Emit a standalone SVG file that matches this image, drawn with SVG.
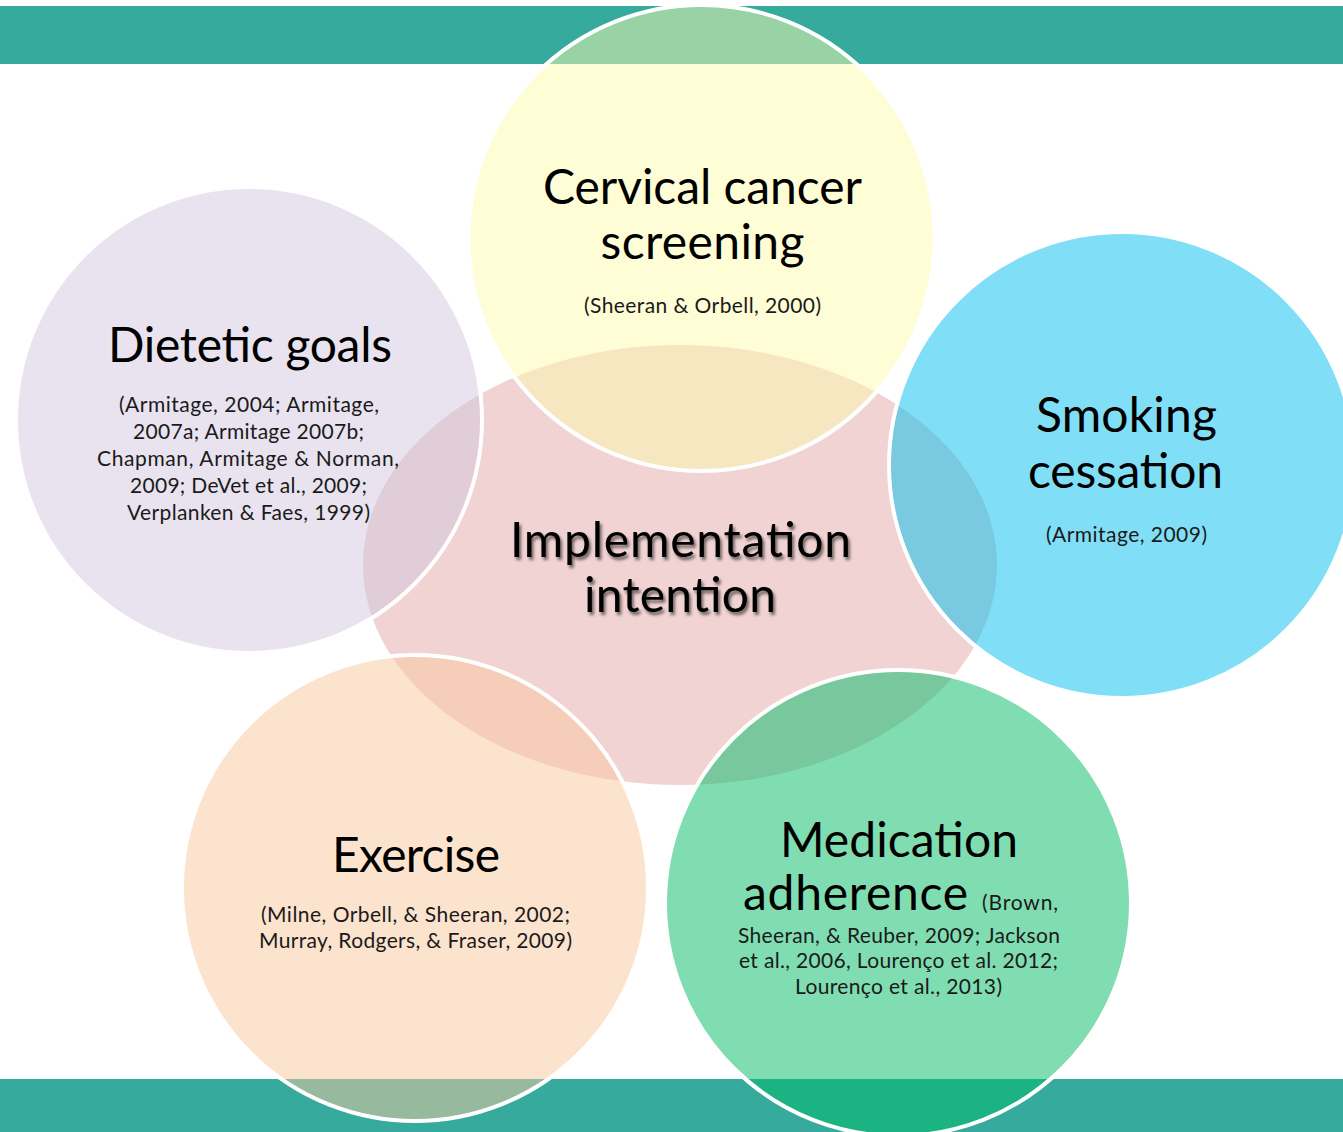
<svg xmlns="http://www.w3.org/2000/svg" width="1343" height="1132" viewBox="0 0 1343 1132">
<style>
.bar{fill:#35AA9D}
.sat{stroke:#FFFFFF;stroke-width:4;fill-opacity:0.5}
.big{font-family:Lato,"Liberation Sans",sans-serif;font-size:48px;fill:#000;text-anchor:middle}
.ref{font-family:Lato,"Liberation Sans",sans-serif;font-size:21px;fill:#1a1a1a;text-anchor:middle}
.shadow{filter:url(#ds)}
</style>
<defs>
<filter id="ds" x="-10%" y="-20%" width="120%" height="150%">
<feDropShadow dx="2" dy="3" stdDeviation="1.6" flood-color="#000" flood-opacity="0.55"/>
</filter>
</defs>
<rect width="1343" height="1132" fill="#FFFFFF"/>
<rect class="bar" x="0" y="6" width="1343" height="58"/>
<rect class="bar" x="0" y="1079" width="1343" height="53"/>

<g id="center">
<ellipse cx="680" cy="565" rx="317" ry="220" fill="#F0D3D2"/>
</g>

<g id="cervical">
<circle class="sat" cx="701.5" cy="238" r="233" fill="#FDFBAD"/>
<text class="big" x="702.5" y="204" textLength="319">Cervical cancer</text>
<text class="big" x="702.5" y="259" textLength="204">screening</text>
<text class="ref" x="702.5" y="313" textLength="237">(Sheeran &amp; Orbell, 2000)</text>
</g>

<g id="dietetic">
<circle class="sat" cx="249" cy="420" r="233" fill="#D1C7DD"/>
<text class="big" x="250" y="362" textLength="284">Dietetic goals</text>
<text class="ref" x="249" y="412" textLength="260">(Armitage, 2004; Armitage,</text>
<text class="ref" x="248.5" y="439" textLength="231">2007a; Armitage 2007b;</text>
<text class="ref" x="248" y="466" textLength="302">Chapman, Armitage &amp; Norman,</text>
<text class="ref" x="248.5" y="493" textLength="237">2009; DeVet et al., 2009;</text>
<text class="ref" x="248.5" y="520" textLength="243">Verplanken &amp; Faes, 1999)</text>
</g>

<g id="smoking">
<circle class="sat" cx="1122" cy="465" r="233" fill="#01BFEF"/>
<text class="big" x="1126.5" y="432" textLength="181">Smoking</text>
<text class="big" x="1125.5" y="488" textLength="195">cessation</text>
<text class="ref" x="1126.5" y="542" textLength="161">(Armitage, 2009)</text>
</g>

<g id="exercise">
<circle class="sat" cx="415" cy="888" r="233" fill="#F9C79D"/>
<text class="big" x="416" y="872" textLength="168">Exercise</text>
<text class="ref" x="415.5" y="922" textLength="309">(Milne, Orbell, &amp; Sheeran, 2002;</text>
<text class="ref" x="415.5" y="948" textLength="313">Murray, Rodgers, &amp; Fraser, 2009)</text>
</g>

<g id="medication">
<circle class="sat" cx="898" cy="903" r="233" fill="#01BB65"/>
<text class="big" x="899" y="857" textLength="238">Medication</text>
<text class="big" x="855.5" y="910" textLength="225">adherence</text>
<text class="ref" x="1020" y="910" textLength="76">(Brown,</text>
<text class="ref" x="899" y="943" textLength="322">Sheeran, &amp; Reuber, 2009; Jackson</text>
<text class="ref" x="898.5" y="968" textLength="319">et al., 2006, Lourenço et al. 2012;</text>
<text class="ref" x="898.5" y="994" textLength="207">Lourenço et al., 2013)</text>
</g>

<g id="implementation-label" class="shadow">
<text class="big" x="680.5" y="557" textLength="341">Implementation</text>
<text class="big" x="680" y="612" textLength="192">intention</text>
</g>
</svg>
